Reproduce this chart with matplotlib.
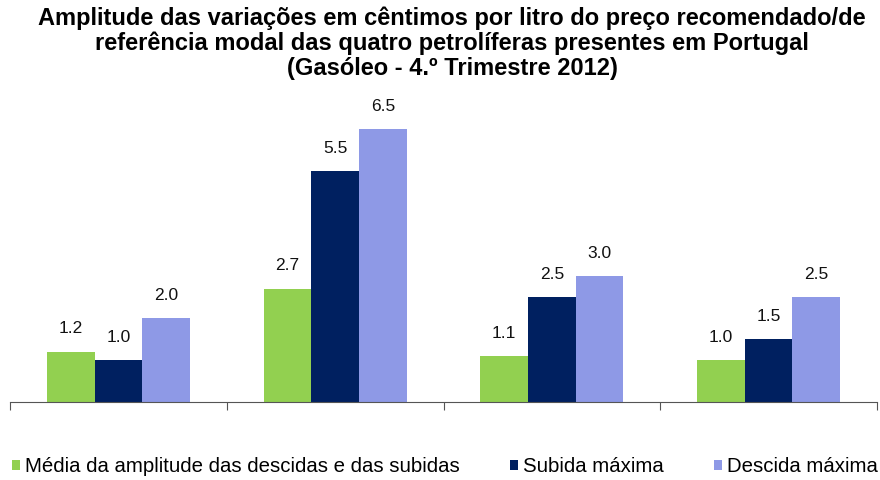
import matplotlib
matplotlib.use("Agg")
import matplotlib.pyplot as plt
import numpy as np

plt.rcParams['font.family'] = ['Liberation Sans', 'DejaVu Sans']

categories = ["", "", "", ""]
series_names = ["Média da amplitude das descidas e das subidas", "Subida máxima", "Descida máxima"]
media = [1.2, 2.7, 1.1, 1.0]
subida = [1.0, 5.5, 2.5, 1.5]
descida = [2.0, 6.5, 3.0, 2.5]
colors = ["#92D050", "#002060", "#8E99E6"]

fig = plt.figure(figsize=(8.8, 4.8), dpi=100)
ax = fig.add_axes([10/880, 1-402/480, 867/880, 294/480])

x = np.arange(len(categories))
w = 0.22
for i, (vals, c, name) in enumerate(zip([media, subida, descida], colors, series_names)):
    pos = x + (i - 1) * w
    ax.bar(pos, vals, width=w, color=c, label=name)
    for p, v in zip(pos, vals):
        ax.annotate(f"{v:.1f}", (p, v), xytext=(0, 11), textcoords='offset points',
                    ha='center', va='bottom', fontsize=12.5, color='#111111')

ax.set_xlim(-0.5, len(categories) - 0.5)
ax.set_ylim(0, 7)
ax.set_yticks([])
ax.set_xticks(np.arange(len(categories) + 1) - 0.5)
ax.set_xticklabels([""] * (len(categories) + 1))
ax.tick_params(axis='x', direction='out', length=6, color='#555555')
for s in ['top', 'right', 'left']:
    ax.spines[s].set_visible(False)
ax.spines['bottom'].set_color('#555555')

fig.text(452/880, 1-7/480, "Amplitude das variações em cêntimos por litro do preço recomendado/de\n"
         "referência modal das quatro petrolíferas presentes em Portugal\n"
         "(Gasóleo - 4.º Trimestre 2012)",
         ha='center', va='top', fontsize=17, fontweight='bold', linespacing=1.08)

leg = fig.legend(loc='center', bbox_to_anchor=(445/880, 1-467/480), ncol=3, frameon=False,
                 fontsize=14.7, handlelength=0.4, handleheight=0.4, handletextpad=0.25,
                 columnspacing=2.45, borderpad=0, borderaxespad=0)

fig.savefig("out.png", dpi=100)
